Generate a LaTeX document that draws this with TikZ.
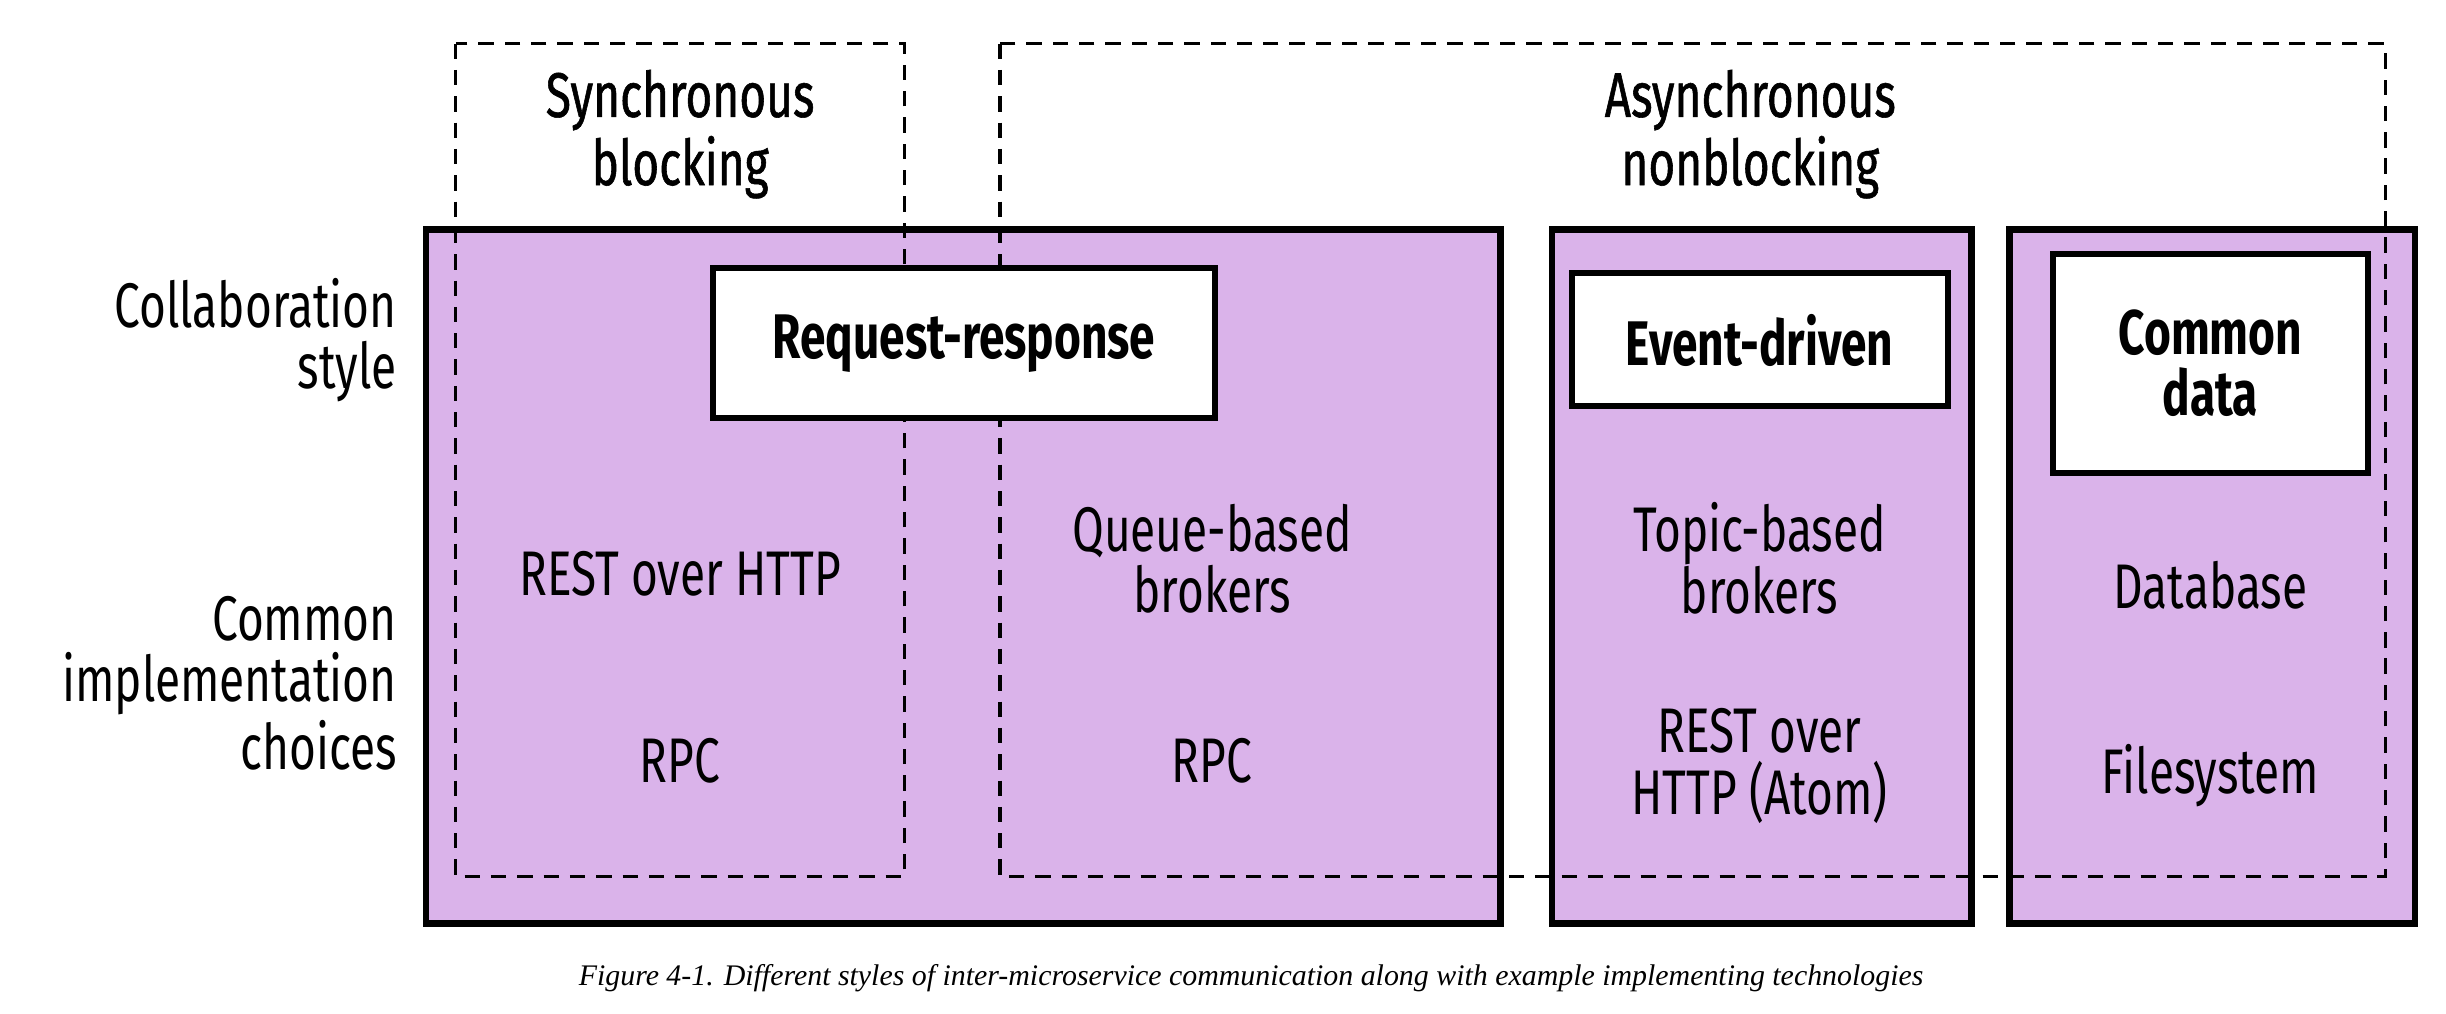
\documentclass[tikz,border=0pt]{standalone}
\usepackage{fontspec}
\setmainfont{Fira Sans}[FakeStretch=0.73]
\newfontfamily\headfont{Fira Sans}[FakeStretch=0.73,FakeBold=0.9]
\newfontfamily\capfont{Liberation Serif}
\usetikzlibrary{positioning}
\definecolor{lilac}{RGB}{218,179,234}

\tikzset{
  stylebox/.style={draw,line width=1.2pt,fill=lilac},
  namebox/.style={draw,line width=1.1pt,fill=white},
  modebox/.style={draw,line width=0.6pt,dash pattern=on 2.8pt off 2pt},
  txt/.style={font=\fontsize{11.5}{11.2}\selectfont,align=center,inner sep=0pt},
  htxt/.style={txt,font=\fontsize{11.5}{11.2}\selectfont\headfont},
  btxt/.style={txt,font=\fontsize{11.5}{11.2}\selectfont\bfseries},
}

\begin{document}
\begin{tikzpicture}[x=0.1mm,y=-0.1mm]
    \useasboundingbox (0,0) rectangle (1568,650);
    % collaboration styles
    \draw [stylebox] (273,147) rectangle (962,592);
    \draw [stylebox] (995,147) rectangle (1264,592);
    \draw [stylebox] (1288,147) rectangle (1548,592);
    % blocking or not
    \draw [modebox] (292,28) rectangle (580,562);
    \draw [modebox] (641,28) rectangle (1529,562);
    \node [htxt] (sync) at (436,86) {Synchronous\\blocking};
    \node [htxt] (async) at (1122,86) {Asynchronous\\nonblocking};
    % row titles
    \node [txt,align=right,anchor=east] (collab) at (255,218) {Collaboration\\style};
    \node [txt,align=right,anchor=east] (impl) at (255,438) {Common\\implementation\\choices};
    % style names
    \draw [namebox] (457,172) rectangle (779,268);
    \draw [namebox] (1008,175) rectangle (1249,260);
    \draw [namebox] (1316,163) rectangle (1518,303);
    \node [btxt] (reqresp) at (618,220) {Request-response};
    \node [btxt] (event) at (1128,218) {Event-driven};
    \node [btxt] (common) at (1417,233) {Common\\data};
    % implementations
    \node [txt] (rest) at (436,368) {REST over HTTP};
    \node [txt] (rpcsync) at (436,488) {RPC};
    \node [txt] (queue) at (777,358) {Queue-based\\brokers};
    \node [txt] (rpcasync) at (777,488) {RPC};
    \node [txt] (topic) at (1128,358) {Topic-based\\brokers};
    \node [txt] (atom) at (1128,491) {REST over\\HTTP (Atom)};
    \node [txt] (db) at (1417,375) {Database};
    \node [txt] (fs) at (1417,497) {Filesystem};
    \node [font=\capfont\itshape\fontsize{5.45}{6}\selectfont] (caption) at (802,627)
        {Figure 4-1. Different styles of inter-microservice communication along with example implementing technologies};
\end{tikzpicture}
\end{document}
